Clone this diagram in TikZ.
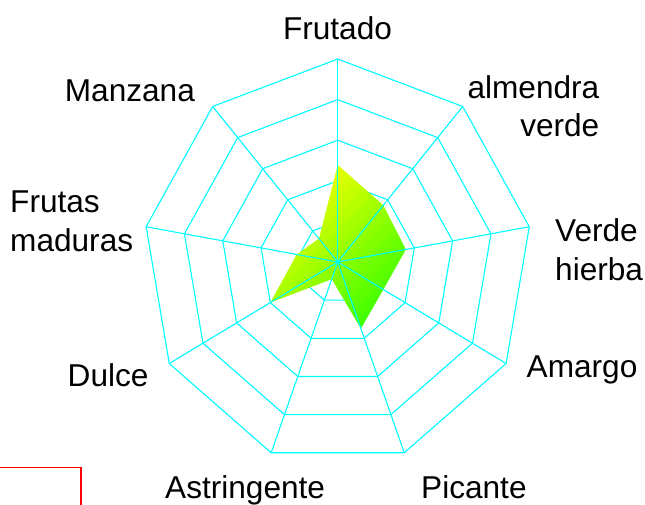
\documentclass[tikz,border=0pt]{standalone}
\usepackage{fontspec}
\setmainfont{Liberation Sans}
\definecolor{gridcyan}{RGB}{0,255,255}
\definecolor{fillyel}{RGB}{255,255,0}
\definecolor{fillgrn}{RGB}{60,255,0}
\begin{document}
\begin{tikzpicture}[x=1pt,y=-1pt,
  grid/.style={gridcyan, line width=1.1pt},
  lbl/.style={inner sep=0pt, font=\fontsize{31.6}{38.3}\selectfont},
]
\useasboundingbox (0,0) rectangle (645,504);
\def\cx{337.7}\def\cy{262}\def\rx{194.5}\def\ry{203}
\coordinate (c) at (\cx,\cy);
\foreach \k in {0,...,8}{
  \coordinate (o\k) at ({\cx+\rx*cos(90-40*\k)},{\cy-\ry*sin(90-40*\k)});
}
% rings
\foreach \r in {0.2,0.4,0.6,0.8,1.0}{
  \draw[grid] ({\cx},{\cy-\ry*\r}) \foreach \k in {1,...,8}{ -- ({\cx+\rx*\r*cos(90-40*\k)},{\cy-\ry*\r*sin(90-40*\k)}) } -- cycle;
}
% data
\foreach \v [count=\k from 0] in {0.478,0.365,0.356,0.271,0.349,0.09,0.40,0.214,0.15}{
  \coordinate (d\k) at ({\cx+\rx*\v*cos(90-40*\k)},{\cy-\ry*\v*sin(90-40*\k)});
}
\shade[top color=fillyel, bottom color=fillgrn, shading angle=45]
  (d0) -- (d1) -- (d2) -- (d3) -- (d4) -- (d5) -- (d6) -- (d7) -- (d8) -- cycle;
% spokes
\foreach \k in {0,...,8}{
  \draw[grid] (c) -- (o\k);
}
% labels
\node[lbl, anchor=base] (lFru) at (337.5,39.5) {Frutado};
\node[lbl, anchor=base east, align=right] (lAlm) at (599.5,136.7) {almendra\\verde};
\node[lbl, anchor=base west, align=left] (lVer) at (555,280) {Verde\\hierba};
\node[lbl, anchor=base west] (lAma) at (526.5,377.7) {Amargo};
\node[lbl, anchor=base west] (lPic) at (421,498) {Picante};
\node[lbl, anchor=base west] (lAst) at (165,498) {Astringente};
\node[lbl, anchor=base west] (lDul) at (67.5,386.7) {Dulce};
\node[lbl, anchor=base west, align=left] (lFrm) at (10,251) {Frutas\\maduras};
\node[lbl, anchor=base west] (lMan) at (64.7,101) {Manzana};
% red box
\draw[red, line width=1.3pt] (-5,467.3) rectangle (81,520);
\end{tikzpicture}
\end{document}
